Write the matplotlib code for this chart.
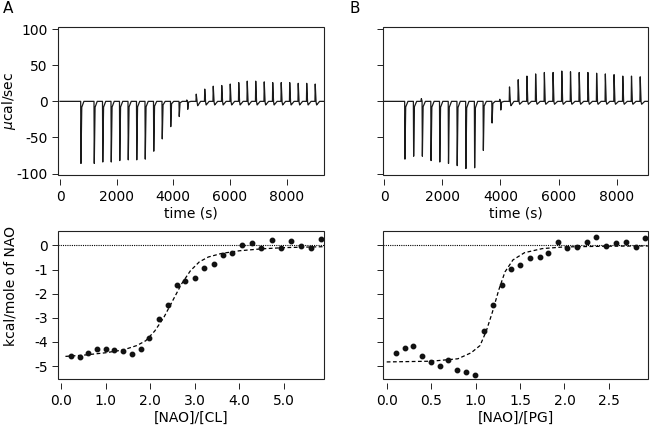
import numpy as np
import matplotlib
matplotlib.use("Agg")
import matplotlib.pyplot as plt

plt.rcParams['font.family'] = ['DejaVu Sans']
plt.rcParams['font.size'] = 10
plt.rcParams['axes.unicode_minus'] = False

# --- raw thermograms (injection times, peak heights in ucal/sec) ---
inj_A = [730] + list(range(1200, 9001, 300))
neg_A = [-86, -86, -84, -84, -82, -81, -81, -80, -69, -52, -35, -21, -11, -6,
         -5, -5, -5, -5, -5, -5, -5, -5, -5, -5, -5, -5, -5, -5]
pos_A = [0, 0, 0, 0, 0, 0, 0, 0, 0, 0, 0, 0, 2, 10,
         17, 21, 22, 24, 26, 28, 28, 27, 26, 26, 26, 25, 25, 24]

inj_B = list(range(700, 8801, 300))
neg_B = [-80, -76, -76, -82, -84, -86, -89, -93, -92, -68, -30, -12, -6, -4,
         -4, -4, -4, -4, -4, -4, -4, -4, -4, -4, -4, -4, -4, -4]
pos_B = [0, 0, 4, 0, 0, 0, 0, 0, 0, 0, 0, 3, 20, 30,
         35, 38, 40, 40, 42, 41, 40, 40, 39, 38, 37, 35, 35, 34]

# --- integrated heats ---
ratio_A = [0.23, 0.43, 0.61, 0.81, 1.00, 1.19, 1.38, 1.59, 1.79, 1.98, 2.19, 2.39,
           2.59, 2.79, 3.00, 3.21, 3.42, 3.63, 3.84, 4.06, 4.28, 4.49, 4.72, 4.94,
           5.16, 5.38, 5.60, 5.82]
heat_A = [-4.60, -4.62, -4.44, -4.28, -4.28, -4.32, -4.38, -4.50, -4.28, -3.84,
          -3.06, -2.45, -1.62, -1.48, -1.34, -0.93, -0.78, -0.39, -0.30, 0.02,
          0.10, -0.10, 0.21, -0.10, 0.18, -0.02, -0.10, 0.26]
fit_xA = [0.1, 0.5, 1.0, 1.4, 1.7, 1.9, 2.1, 2.3, 2.5, 2.7, 2.9, 3.1, 3.3, 3.6,
          4.0, 4.5, 5.0, 5.9]
fit_yA = [-4.60, -4.55, -4.45, -4.33, -4.15, -3.95, -3.55, -3.00, -2.30, -1.60,
          -1.05, -0.68, -0.48, -0.33, -0.22, -0.14, -0.09, -0.05]

ratio_B = [0.11, 0.21, 0.30, 0.40, 0.50, 0.60, 0.69, 0.79, 0.89, 0.99, 1.10, 1.20,
           1.30, 1.40, 1.50, 1.61, 1.72, 1.82, 1.93, 2.03, 2.14, 2.25, 2.36, 2.47,
           2.58, 2.69, 2.80, 2.91]
heat_B = [-4.46, -4.27, -4.15, -4.60, -4.83, -4.98, -4.76, -5.15, -5.25, -5.39,
          -3.53, -2.48, -1.66, -0.98, -0.81, -0.53, -0.46, -0.33, 0.15, -0.12,
          -0.08, 0.15, 0.37, -0.02, 0.11, 0.15, -0.08, 0.33]
fit_xB = [0.0, 0.5, 0.8, 0.95, 1.05, 1.12, 1.19, 1.26, 1.33, 1.42, 1.55, 1.75,
          2.0, 2.5, 2.95]
fit_yB = [-4.83, -4.80, -4.70, -4.45, -4.15, -3.55, -2.75, -1.85, -1.10, -0.60,
          -0.30, -0.13, -0.06, -0.03, -0.02]


def trace(inj, neg, pos, tmax):
    t = np.arange(0, tmax, 2.0)
    y = np.zeros_like(t)
    for ti, n, p in zip(inj, neg, pos):
        if p > -n:
            # endothermic spike followed by a small dip
            y += np.interp(t, [ti, ti + 10, ti + 36, ti + 60, ti + 160],
                           [0, p, 0, n, 0], left=0, right=0)
        else:
            y += np.interp(t, [ti, ti + 10, ti + 34, ti + 110],
                           [0, n, n * 0.1, 0], left=0, right=0)
            if p > 0:
                y += np.interp(t, [ti - 40, ti - 25, ti - 5], [0, p, 0],
                               left=0, right=0)
    return t, y


def style(ax):
    for s in ax.spines.values():
        s.set_visible(False)
    ax.spines['bottom'].set_position(('outward', 3))
    ax.add_patch(plt.Rectangle((0, 0), 1, 1, transform=ax.transAxes, fill=False,
                               lw=0.8, ec='#222222', clip_on=False, zorder=5))
    ax.tick_params(direction='out', length=4.5, width=0.7, color='#222222', pad=3)


fig = plt.figure(figsize=(6.5, 4.28), dpi=100)
axA = fig.add_axes([0.0897, 0.5911, 0.4092, 0.3458])
axB = fig.add_axes([0.5888, 0.5911, 0.4082, 0.3458])
axC = fig.add_axes([0.0897, 0.1138, 0.4092, 0.3465])
axD = fig.add_axes([0.5888, 0.1138, 0.4082, 0.3465])

tA, yA = trace(inj_A, neg_A, pos_A, 9300)
axA.plot(tA, yA, color='#1a1a1a', lw=0.9)
tB, yB = trace(inj_B, neg_B, pos_B, 9080)
axB.plot(tB, yB, color='#1a1a1a', lw=0.9)
for ax, xr in [(axA, (-60, 9330)), (axB, (-55, 9080))]:
    style(ax)
    ax.set_xlim(*xr)
    ax.set_ylim(-102, 103)
    ax.set_xticks([0, 2000, 4000, 6000, 8000])
    ax.set_yticks([-100, -50, 0, 50, 100])
    ax.set_xlabel('time (s)', labelpad=2)
axA.set_ylabel(r'$\mu$cal/sec')
axA.yaxis.set_label_coords(-0.152, 0.5)
axB.set_yticklabels([])

for ax, rx, hy, fx, fy in [(axC, ratio_A, heat_A, fit_xA, fit_yA),
                           (axD, ratio_B, heat_B, fit_xB, fit_yB)]:
    style(ax)
    ax.axhline(0, color='black', lw=0.8, ls=(0, (1, 1)))
    ax.plot(fx, fy, color='black', lw=0.9, ls=(0, (3, 2)))
    ax.plot(rx, hy, 'o', color='#111111', ms=3.2)
    ax.set_ylim(-5.55, 0.6)
    ax.set_yticks([-5, -4, -3, -2, -1, 0])

axC.set_xlim(-0.06, 5.9)
axC.set_xticks([0, 1, 2, 3, 4, 5])
axC.set_xticklabels(['0.0', '1.0', '2.0', '3.0', '4.0', '5.0'])
axC.set_xlabel('[NAO]/[CL]', labelpad=2)
axC.set_ylabel('kcal/mole of NAO')
axC.yaxis.set_label_coords(-0.152, 0.63)

axD.set_xlim(-0.045, 2.94)
axD.set_xticks([0, 0.5, 1.0, 1.5, 2.0, 2.5])
axD.set_xticklabels(['0.0', '0.5', '1.0', '1.5', '2.0', '2.5'])
axD.set_xlabel('[NAO]/[PG]', labelpad=2)
axD.set_yticklabels([])

fig.text(0.004, 0.997, 'A', fontsize=11, va='top', ha='left')
fig.text(0.537, 0.997, 'B', fontsize=11, va='top', ha='left')

fig.savefig('out.png', dpi=100)
